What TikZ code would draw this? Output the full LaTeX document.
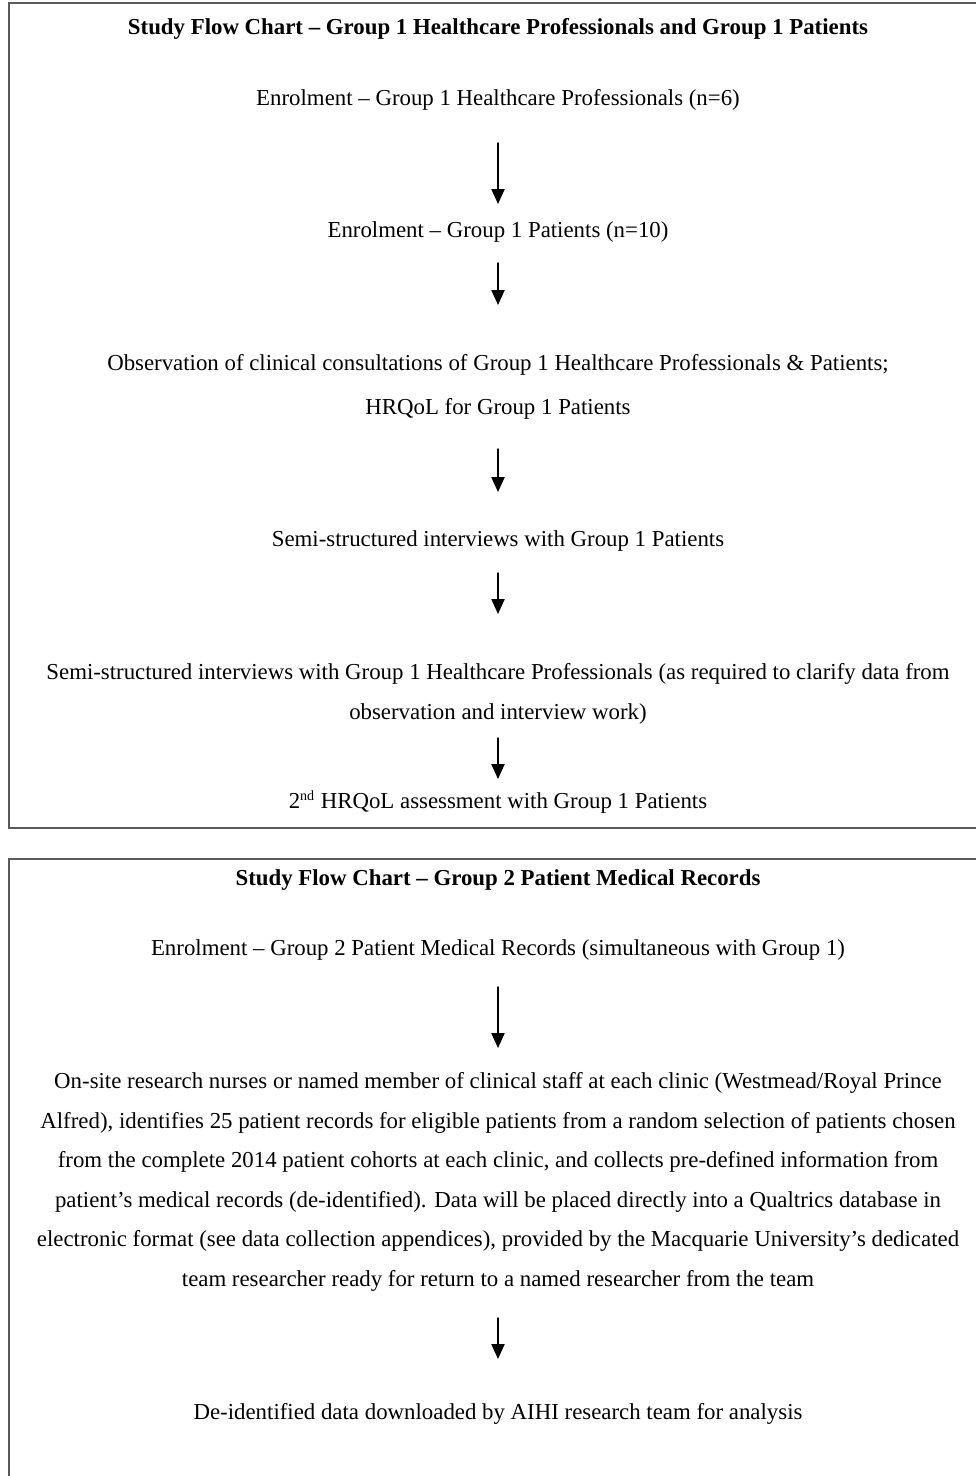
\documentclass[tikz,border=0pt]{standalone}
\usepackage{fontspec}
\setmainfont{Liberation Serif}
\usetikzlibrary{arrows.meta}

\tikzset{
  flowtext/.style={font=\fontsize{13}{22.5}\selectfont,align=center,inner sep=0pt},
  flowtitle/.style={flowtext,font=\fontsize{13}{22.5}\selectfont\bfseries},
  flowarrow/.style={->,line width=0.8pt},
  framebox/.style={draw=black!65,line width=0.9pt}
}

\begin{document}
\begin{tikzpicture}[x=0.02cm,y=-0.02cm,>={Triangle[length=8.5pt,width=7.5pt]},line cap=round]
\useasboundingbox (0,0) rectangle (976,1476);
\begin{scope}
\clip (0,0) rectangle (976,1476);
\draw[framebox] (9,3) rectangle (990,828);
\draw[framebox] (9,859) rectangle (990,1500);
\end{scope}
\node[flowtitle] (title1) at (498,29) {Study Flow Chart -- Group 1 Healthcare Professionals and Group 1 Patients};
\node[flowtext] (enrolhcp) at (498,100) {Enrolment -- Group 1 Healthcare Professionals (n=6)};
\node[flowtext] (enrolpat) at (498,232) {Enrolment -- Group 1 Patients (n=10)};
\node[flowtext] (observe) at (498,387) {Observation of clinical consultations of Group 1 Healthcare Professionals \& Patients;\\[2.4pt]
  HRQoL for Group 1 Patients};
\node[flowtext] (interpat) at (498,541) {Semi-structured interviews with Group 1 Patients};
\node[flowtext] (interhcp) at (498,694) {Semi-structured interviews with Group 1 Healthcare Professionals (as required to clarify data from\\
  observation and interview work)};
\node[flowtext] (hrqol2) at (498,802) {2\textsuperscript{\fontsize{8}{8}\selectfont nd} HRQoL assessment with Group 1 Patients};
\node[flowtitle] (title2) at (498,880) {Study Flow Chart -- Group 2 Patient Medical Records};
\node[flowtext] (enrolrec) at (498,950) {Enrolment -- Group 2 Patient Medical Records (simultaneous with Group 1)};
\node[flowtext] (records) at (498,1182) {On-site research nurses or named member of clinical staff at each clinic (Westmead/Royal Prince\\
  Alfred), identifies 25 patient records for eligible patients from a random selection of patients chosen\\
  from the complete 2014 patient cohorts at each clinic, and collects pre-defined information from\\
  patient's medical records (de-identified). Data will be placed directly into a Qualtrics database in\\
  electronic format (see data collection appendices), provided by the Macquarie University's dedicated\\
  team researcher ready for return to a named researcher from the team};
\node[flowtext] (deident) at (498,1414) {De-identified data downloaded by AIHI research team for analysis};
\draw[flowarrow,shorten <=0.86cm,shorten >=0.56cm] (enrolhcp.center) -- (enrolpat.center);
\draw[flowarrow,shorten <=0.62cm,shorten >=1.64cm] (enrolpat.center) -- (observe.center);
\draw[flowarrow,shorten <=1.24cm,shorten >=0.98cm] (observe.center) -- (interpat.center);
\draw[flowarrow,shorten <=0.64cm,shorten >=1.6cm] (interpat.center) -- (interhcp.center);
\draw[flowarrow,shorten <=0.88cm,shorten >=0.46cm] (interhcp.center) -- (hrqol2.center);
\draw[flowarrow,shorten <=0.74cm,shorten >=2.68cm] (enrolrec.center) -- (records.center);
\draw[flowarrow,shorten <=2.72cm,shorten >=1.1cm] (records.center) -- (deident.center);
\end{tikzpicture}
\end{document}
